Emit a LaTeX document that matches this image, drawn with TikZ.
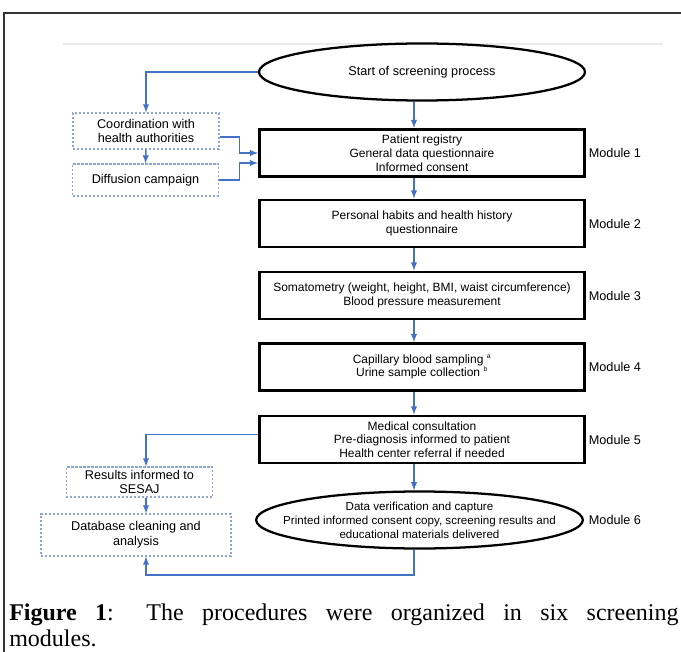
\documentclass[tikz,border=0pt]{standalone}
\usepackage{fontspec}
\setmainfont{Liberation Serif}
\setsansfont{Liberation Sans}
\usepackage{tikz}
\usetikzlibrary{positioning}
\usetikzlibrary{arrows,shapes}
\usetikzlibrary{calc}
\definecolor{flowblue}{RGB}{68,114,196}
\definecolor{dashblue}{RGB}{143,163,212}
\tikzstyle{edge} = [draw,line width=1.1pt,flowblue,->,>=latex]
\tikzstyle{stepbox} = [draw,line width=1.9pt,minimum width=244pt,minimum height=35.5pt,align=center,fill=white,font=\sffamily\fontsize{9}{10.3}\selectfont]
\tikzstyle{oval} = [draw,ellipse,line width=1.7pt,fill=white,inner sep=0pt]
\tikzstyle{sidebox} = [draw=dashblue,line width=0.8pt,dash pattern=on 1.6pt off 1.4pt,align=center,inner sep=0pt,font=\sffamily\fontsize{9.5}{11}\selectfont]
\tikzstyle{modlabel} = [inner sep=0pt,font=\sffamily\fontsize{9.5}{11}\selectfont]

\begin{document}
\begin{tikzpicture}[x=0.75pt,y=-0.75pt]
 \useasboundingbox (0,0) rectangle (681,652);

 % frame and scan line
 \draw[black!80,line width=1.5pt] (4,670) -- (4,13) -- (700,13);
 \draw[black!8,line width=1.2pt] (63,44) -- (663,44);

 \coordinate (spine) at (414,0);
 \coordinate (leftcol) at (146,0);
 \coordinate (loop) at (146,575);

 % main column
 \node[oval,minimum width=244.5pt,minimum height=42.75pt,font=\sffamily\fontsize{9.5}{11}\selectfont] (start) at (422,72) {Start of screening process};
 \node[stepbox] (registry) at (422,153) {Patient registry\\General data questionnaire\\Informed consent};
 \node[stepbox] (habits) at (422,223.5) {Personal habits and health history\\questionnaire};
 \node[stepbox] (somato) at (422,295.5) {Somatometry (weight, height, BMI, waist circumference)\\Blood pressure measurement};
 \node[stepbox] (sampling) at (422,367) {Capillary blood sampling \textsuperscript{\tiny a}\\Urine sample collection \textsuperscript{\tiny b}};
 \node[stepbox] (consult) at (422,439.5) {Medical consultation\\Pre-diagnosis informed to patient\\Health center referral if needed};
 \node[oval,minimum width=245pt,minimum height=42.75pt] (delivery) at (419.5,520) {};
 \node[align=center,inner sep=0pt,font=\sffamily\fontsize{8.7}{10.4}\selectfont] (deliverytext) at (delivery) {Data verification and capture\\Printed informed consent copy, screening results and\\educational materials delivered};

 \node[modlabel,right=2pt of registry] (mod1) {Module 1};
 \node[modlabel,right=2pt of habits] (mod2) {Module 2};
 \node[modlabel,right=2pt of somato] (mod3) {Module 3};
 \node[modlabel,right=2pt of sampling] (mod4) {Module 4};
 \node[modlabel,right=2pt of consult] (mod5) {Module 5};
 \node[modlabel,right=3.5pt of delivery] (mod6) {Module 6};

 % side column
 \node[sidebox,minimum width=109.5pt,minimum height=27pt] (coord) at (146,131) {Coordination with\\health authorities};
 \node[sidebox,minimum width=109pt,minimum height=24pt] (diffusion) at (145.5,180) {Diffusion campaign};
 \node[sidebox,minimum width=110pt,minimum height=22.5pt] (results) at (139.5,482) {Results informed to\\SESAJ};
 \node[sidebox,minimum width=142.5pt,minimum height=31.5pt] (cleaning) at (136,535) {Database cleaning and\\analysis};

 \path[edge] (start.south -| spine) -- (registry.north -| spine);
 \path[edge] (registry.south -| spine) -- (habits.north -| spine);
 \path[edge] (habits.south -| spine) -- (somato.north -| spine);
 \path[edge] (somato.south -| spine) -- (sampling.north -| spine);
 \path[edge] (sampling.south -| spine) -- (consult.north -| spine);
 \path[edge] (consult.south -| spine) -- (delivery.north -| spine);

 \path[edge] (start.west) -| (coord.north);
 \path[edge] (coord.south) -- (diffusion.north);
 \path[edge] ($(coord.east)+(0,6)$) -- ++(20,0) |- (registry.west);
 \path[edge] (diffusion.east) -- ++(21,0) |- ($(registry.west)+(0,10)$);

 \path[edge] ($(consult.west)+(0,-5)$) -| (results.north -| leftcol);
 \path[edge] (results.south -| leftcol) -- (cleaning.north -| leftcol);
 \path[edge] (delivery.south -| spine) |- (loop) -- (cleaning.south -| loop);

 % caption
 \node[anchor=north west,inner sep=0pt,text width=502pt,align=justify,font=\fontsize{18}{19.5}\selectfont] (caption) at (9,604) {\textbf{Figure 1}: The procedures were organized in six screening\linebreak modules.};

\end{tikzpicture}
\end{document}
